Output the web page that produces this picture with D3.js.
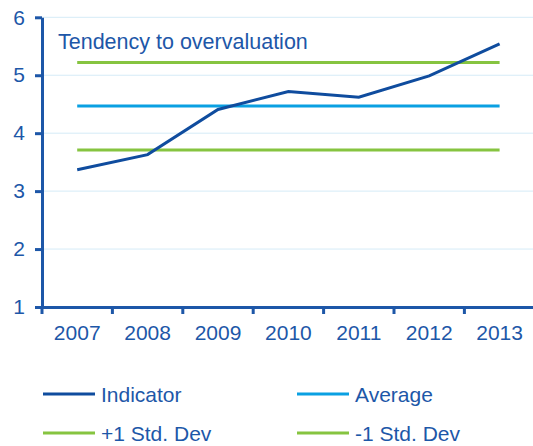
<!DOCTYPE html>
<html>
<head>
<meta charset="utf-8">
<script src="https://cdn.jsdelivr.net/npm/d3@7"></script>
<style>
  body { margin: 0; background: #fff; }
  text { font-family: "Liberation Sans", Arial, sans-serif; fill: #1d57a8; }
</style>
</head>
<body>
<div id="chart"></div>
<script>
// data
var years = ["2007", "2008", "2009", "2010", "2011", "2012", "2013"];
var indicator = [3.37, 3.63, 4.41, 4.72, 4.62, 4.99, 5.54];
var average = [4.47, 4.47, 4.47, 4.47, 4.47, 4.47, 4.47];
var plusStd = [5.22, 5.22, 5.22, 5.22, 5.22, 5.22, 5.22];
var minusStd = [3.71, 3.71, 3.71, 3.71, 3.71, 3.71, 3.71];
var yTicks = [1, 2, 3, 4, 5, 6];

var svgWidth = 533;
var svgHeight = 446;

var axisColor = "#1d57a8";

var svg = d3.select("#chart")
  .append("svg")
  .attr("width", svgWidth)
  .attr("height", svgHeight);

var xScale = d3.scaleBand()
  .domain(years)
  .range([42, 42 + 7 * 70.4]);

var yScale = d3.scaleLinear()
  .domain([1, 6])
  .range([307, 17.3]);

// gridlines
svg.append("g")
  .selectAll("line")
  .data(yTicks.slice(1))
  .enter()
  .append("line")
  .attr("x1", 42)
  .attr("x2", svgWidth)
  .attr("y1", d => yScale(d))
  .attr("y2", d => yScale(d))
  .attr("stroke", "#d5ebf7")
  .attr("stroke-width", 1);

// series lines
var series = [
  { name: "+1 Std. Dev", values: plusStd, color: "#86c440" },
  { name: "-1 Std. Dev", values: minusStd, color: "#86c440" },
  { name: "Average", values: average, color: "#0aa0e2" },
  { name: "Indicator", values: indicator, color: "#0f4c9e" }
];

var line = d3.line()
  .x((d, i) => xScale(years[i]) + xScale.bandwidth() / 2)
  .y(d => yScale(d));

svg.append("g")
  .selectAll("path")
  .data(series)
  .enter()
  .append("path")
  .attr("d", d => line(d.values))
  .attr("fill", "none")
  .attr("stroke", d => d.color)
  .attr("stroke-width", 3);

// y axis
var leftAxis = d3.axisLeft(yScale)
  .tickValues(yTicks)
  .tickFormat(d3.format("d"))
  .tickSizeInner(7)
  .tickSizeOuter(0)
  .tickPadding(10);

var yAxis = svg.append("g")
  .attr("transform", "translate(42,0)")
  .call(leftAxis);

// x axis
var bottomAxis = d3.axisBottom(xScale)
  .tickSize(0)
  .tickPadding(18);

var xAxis = svg.append("g")
  .attr("transform", "translate(0,307)")
  .call(bottomAxis);

// tick marks on band boundaries
xAxis.selectAll(".bound")
  .data(years)
  .enter()
  .append("line")
  .attr("class", "bound")
  .attr("x1", d => xScale(d))
  .attr("x2", d => xScale(d))
  .attr("y1", 0)
  .attr("y2", 7);

[yAxis, xAxis].forEach(function (ax) {
  ax.selectAll("path.domain").attr("stroke", axisColor).attr("stroke-width", 3);
  ax.selectAll("line").attr("stroke", axisColor).attr("stroke-width", 3);
  ax.selectAll("text")
    .attr("font-size", "21px")
    .style("font-family", "'Liberation Sans', Arial, sans-serif")
    .attr("fill", axisColor);
});

// title inside the plot
svg.append("text")
  .attr("x", 58)
  .attr("y", 49)
  .attr("font-size", "21.5px")
  .text("Tendency to overvaluation");

// legend
var legendItems = [
  { name: "Indicator", color: "#0f4c9e", x: 43, y: 394 },
  { name: "Average", color: "#0aa0e2", x: 297, y: 394 },
  { name: "+1 Std. Dev", color: "#86c440", x: 43, y: 433 },
  { name: "-1 Std. Dev", color: "#86c440", x: 297, y: 433 }
];

var legend = svg.append("g")
  .selectAll("g")
  .data(legendItems)
  .enter()
  .append("g")
  .attr("transform", d => `translate(${d.x}, ${d.y})`);

legend.append("line")
  .attr("x1", 0)
  .attr("x2", 52)
  .attr("stroke", d => d.color)
  .attr("stroke-width", 3);

legend.append("text")
  .attr("x", 58)
  .attr("y", 8)
  .attr("font-size", "21px")
  .text(d => d.name);
</script>
</body>
</html>
